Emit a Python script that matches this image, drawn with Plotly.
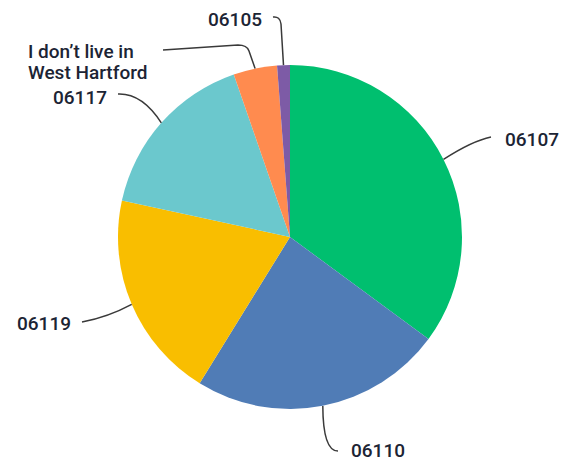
import math
import plotly.graph_objects as go

labels = ["06107", "06110", "06119", "06117", "I don’t live in<br>West Hartford", "06105"]
values = [35.1, 23.7, 19.6, 16.3, 4.1, 1.2]
colors = ["#00BF6F", "#507CB6", "#F9BE00", "#6BC8CD", "#FF8B4F", "#7D5BA6"]

W, H = 569, 461
CX, CY, R = 290, 237, 172
FS = 19


def px(x, y):
    return x / W, 1 - y / H


fig = go.Figure(go.Pie(
    labels=labels, values=values, sort=False, direction="clockwise", rotation=0,
    marker=dict(colors=colors, line=dict(width=0)), textinfo="none", hoverinfo="label+percent",
    domain=dict(x=[(CX - R) / W, (CX + R) / W], y=[1 - (CY + R) / H, 1 - (CY - R) / H]),
    showlegend=False,
))

# anchor points on the rim, from each slice's mid angle
total = sum(values)
anchors = []
cum = 0
for v in values:
    mid = (cum + v / 2) / total * 2 * math.pi
    anchors.append((CX + R * math.sin(mid), CY - R * math.cos(mid)))
    cum += v

# label layout: (text x, first-line y, xanchor, leader path after start)
layout_info = [
    (503, 139, "left", lambda s: f"M{s[0]},{s[1]} Q472,141 491,137"),
    (349, 450, "left", lambda s: f"M{s[0]},{s[1]} Q323,451 338,451"),
    (73, 323, "right", lambda s: f"M{s[0]},{s[1]} Q108,317 82,322"),
    (109, 97, "right", lambda s: f"M{s[0]},{s[1]} Q142,93 118,94"),
    (26, 51, "left", lambda s: f"M{s[0]},{s[1]} L249,51 Q247,45 238,45 L163,50"),
    (264, 19, "right", lambda s: f"M{s[0]},{s[1]} L281,24 Q280,16 273,17"),
]
LINE_GAP = 22

shapes = []
annotations = []
for lab, a, (tx, ty, xa, pathf) in zip(labels, anchors, layout_info):
    a_px = (round(a[0], 1), round(a[1], 1))
    raw = pathf(a_px)
    tokens = raw.replace("M", " M ").replace("Q", " Q ").replace("L", " L ").split()
    out = []
    for t in tokens:
        if t in ("M", "Q", "L"):
            out.append(t)
        else:
            x, y = map(float, t.split(","))
            pxx, pyy = px(x, y)
            out.append(f"{pxx:.5f},{pyy:.5f}")
    shapes.append(dict(type="path", xref="paper", yref="paper", path=" ".join(out),
                       line=dict(color="#3a3a3a", width=1.5)))
    for i, line in enumerate(lab.split("<br>")):
        x, y = px(tx, ty + i * LINE_GAP)
        annotations.append(dict(x=x, y=y, xref="paper", yref="paper", text=line, showarrow=False,
                                xanchor=xa, yanchor="middle", align="left",
                                font=dict(family="Roboto", size=FS, color="#1c2434", weight=500)))

fig.update_layout(width=W, height=H, margin=dict(l=0, r=0, t=0, b=0),
                  paper_bgcolor="white", plot_bgcolor="white",
                  shapes=shapes, annotations=annotations)
fig.write_html("out.html", config={"displayModeBar": False},
               post_script="document.body.style.margin='0';document.body.style.overflow='hidden';")
